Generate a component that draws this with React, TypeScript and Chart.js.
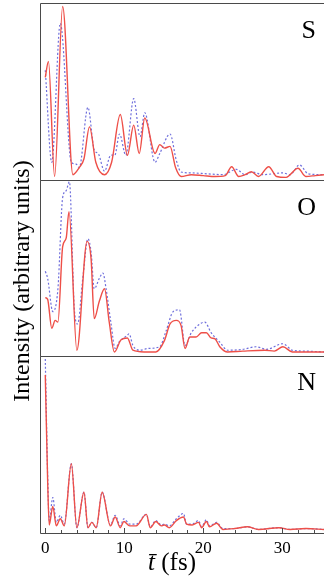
import React, { useEffect, useRef } from 'react';
import { Chart, registerables } from 'chart.js';

Chart.register(...registerables);

// ---------- data (time in fs, intensity as fraction of panel height) ----------
const xMin = -0.67;
const xMax = 35.3;
const xTickStep = 2;
const xLabelEvery = 10;

const panelLabels = ['S', 'O', 'N'];
const yAxisTitle = 'Intensity (arbitrary units)';
const xAxisTitleVar = 't\u0304';
const xAxisTitleUnit = ' (fs)';

// S panel
const tS_red = [0, 0.4, 1.18, 2.2, 3.5, 4.3, 4.9, 5.6, 6.4, 7.5, 8.4, 9.5, 10.4, 11.2, 11.9, 12.6, 13.9, 14.5, 15.1, 15.8, 16.5, 17.2, 18.5, 20.0, 21.5, 22.8, 23.6, 24.5, 25.3, 26.1, 27.0, 28.3, 29.3, 30.5, 32.0, 33.0, 34.2, 35.3];
const vS_red = [0.58, 0.67, 0.02, 0.98, 0.03, 0.07, 0.12, 0.30, 0.10, 0.03, 0.10, 0.37, 0.14, 0.31, 0.15, 0.35, 0.15, 0.20, 0.18, 0.19, 0.07, 0.02, 0.03, 0.025, 0.02, 0.025, 0.075, 0.02, 0.03, 0.047, 0.02, 0.075, 0.02, 0.015, 0.066, 0.02, 0.025, 0.03];
const tS_blue = [0, 0.82, 1.9, 3.3, 3.9, 4.3, 5.4, 6.2, 6.7, 7.5, 8.3, 8.8, 9.4, 10.2, 11.2, 12.0, 12.6, 13.9, 14.5, 15.8, 16.6, 17.2, 18.5, 20.5, 22.5, 24.2, 25.3, 26.3, 27.5, 30.1, 31.0, 32.2, 33.3, 35.3];
const vS_blue = [0.62, 0.10, 0.885, 0.10, 0.09, 0.07, 0.41, 0.17, 0.15, 0.05, 0.14, 0.14, 0.26, 0.14, 0.46, 0.245, 0.38, 0.10, 0.15, 0.26, 0.11, 0.045, 0.04, 0.035, 0.03, 0.06, 0.03, 0.045, 0.03, 0.04, 0.03, 0.085, 0.035, 0.03];

// O panel
const tO_red = [0, 0.3, 0.82, 1.25, 1.6, 2.2, 2.65, 3.0, 4.0, 5.3, 5.8, 6.2, 6.85, 7.5, 8.1, 8.75, 9.6, 10.4, 11.1, 12.5, 14.0, 15.1, 15.8, 16.6, 17.2, 17.7, 18.3, 19.1, 19.8, 20.4, 21.0, 21.5, 22.1, 23.1, 25.0, 27.8, 29.0, 30.1, 31.3, 33.0, 35.3];
const vO_red = [0.33, 0.32, 0.155, 0.20, 0.19, 0.62, 0.67, 0.82, 0.03, 0.65, 0.55, 0.21, 0.31, 0.38, 0.19, 0.02, 0.09, 0.10, 0.03, 0.02, 0.02, 0.086, 0.18, 0.20, 0.17, 0.04, 0.105, 0.105, 0.13, 0.13, 0.10, 0.095, 0.05, 0.02, 0.025, 0.03, 0.025, 0.05, 0.02, 0.02, 0.02];
const tO_blue = [0, 0.3, 0.95, 1.6, 2.2, 2.65, 3.05, 3.7, 4.1, 4.75, 5.4, 5.8, 6.2, 6.85, 7.3, 7.7, 8.3, 8.85, 9.4, 10.4, 10.6, 11.1, 12.0, 13.0, 14.5, 15.3, 16.2, 17.0, 17.7, 18.5, 19.6, 20.2, 21.0, 22.1, 23.1, 25.0, 26.7, 28.0, 30.1, 31.3, 33.0, 35.3];
const vO_blue = [0.48, 0.44, 0.25, 0.38, 0.90, 0.94, 0.99, 0.25, 0.18, 0.44, 0.665, 0.59, 0.38, 0.44, 0.47, 0.38, 0.19, 0.04, 0.08, 0.115, 0.124, 0.057, 0.03, 0.04, 0.05, 0.14, 0.25, 0.26, 0.057, 0.13, 0.18, 0.19, 0.13, 0.076, 0.03, 0.035, 0.05, 0.035, 0.067, 0.03, 0.025, 0.02];

// N panel
const tN = [0, 0.3, 0.5, 0.95, 1.4, 1.9, 2.4, 3.3, 4.0, 4.9, 5.4, 5.9, 6.45, 7.2, 8.25, 8.85, 9.5, 9.95, 10.7, 11.5, 12.8, 13.3, 14.0, 14.7, 15.1, 15.7, 16.6, 17.5, 17.9, 18.6, 19.4, 19.8, 20.4, 20.8, 21.7, 22.5, 24.0, 25.6, 27.0, 29.6, 31.0, 33.0, 35.3];
const vN_red = [0.89, 0.29, 0.045, 0.15, 0.04, 0.08, 0.04, 0.39, 0.03, 0.23, 0.03, 0.06, 0.03, 0.23, 0.04, 0.09, 0.03, 0.065, 0.04, 0.04, 0.105, 0.03, 0.065, 0.04, 0.045, 0.03, 0.07, 0.09, 0.05, 0.045, 0.06, 0.03, 0.065, 0.035, 0.055, 0.02, 0.025, 0.035, 0.02, 0.03, 0.02, 0.025, 0.02];
const vN_blue = [0.98, 0.32, 0.07, 0.20, 0.06, 0.10, 0.05, 0.39, 0.03, 0.23, 0.03, 0.06, 0.03, 0.23, 0.045, 0.10, 0.04, 0.08, 0.05, 0.05, 0.105, 0.035, 0.07, 0.045, 0.05, 0.04, 0.08, 0.11, 0.05, 0.05, 0.07, 0.035, 0.075, 0.04, 0.06, 0.025, 0.025, 0.035, 0.02, 0.03, 0.02, 0.025, 0.02];

// ---------- styling ----------
const RED = '#ee4f48';
const BLUE = '#6f6fdc';
const FRAME = '#4a4a4a';
const SERIF = '"Liberation Serif", "Times New Roman", serif';

const pts = (t: number[], v: number[]) => t.map((x, i) => ({ x, y: v[i] }));

const redDs = (id: string, t: number[], v: number[]) => ({
  data: pts(t, v), yAxisID: id, borderColor: RED, borderWidth: 1.4,
  pointRadius: 0, fill: false, cubicInterpolationMode: 'monotone' as const,
});
const blueDs = (id: string, t: number[], v: number[]) => ({
  data: pts(t, v), yAxisID: id, borderColor: BLUE, borderWidth: 1.2, borderDash: [2, 2],
  pointRadius: 0, fill: false, cubicInterpolationMode: 'monotone' as const,
});

const panelScale = (weight: number, stackWeight: number) => ({
  type: 'linear' as const, position: 'left' as const, stack: 'panels', stackWeight, weight,
  min: 0, max: 1, display: true,
  ticks: { display: false }, grid: { display: false, drawTicks: false }, border: { display: false },
  afterFit: (s: any) => { s.width = 0; },
});

const framePlugin = {
  id: 'panelFrames',
  afterDraw(chart: any) {
    const { ctx, chartArea, scales } = chart;
    ctx.save();
    ctx.strokeStyle = FRAME;
    ctx.lineWidth = 1;
    const left = Math.round(chartArea.left) + 0.5;
    ['yS', 'yO', 'yN'].forEach((id, i) => {
      const s = scales[id];
      const top = Math.round(s.top) + 0.5;
      const bottom = Math.round(s.bottom) + 0.5;
      ctx.beginPath();
      ctx.moveTo(chartArea.right + 2, top);
      ctx.lineTo(left, top);
      ctx.lineTo(left, bottom);
      ctx.lineTo(chartArea.right + 2, bottom);
      ctx.stroke();
      ctx.fillStyle = '#000';
      ctx.font = `26px ${SERIF}`;
      ctx.textAlign = 'right';
      ctx.textBaseline = 'alphabetic';
      ctx.fillText(panelLabels[i], chartArea.right - 8, s.top + 34.5);
    });
    // inward tick marks on the bottom axis
    const x = scales.x;
    const yb = Math.round(chartArea.bottom);
    x.ticks.forEach((t: any) => {
      const px = Math.round(x.getPixelForValue(t.value)) + 0.5;
      const len = t.value % xLabelEvery === 0 ? 5 : 3;
      ctx.beginPath();
      ctx.moveTo(px, yb);
      ctx.lineTo(px, yb - len);
      ctx.stroke();
    });
    // x axis title
    ctx.fillStyle = '#000';
    ctx.textBaseline = 'alphabetic';
    ctx.textAlign = 'left';
    ctx.font = `italic 25px ${SERIF}`;
    const w1 = ctx.measureText(xAxisTitleVar).width;
    ctx.font = `25px ${SERIF}`;
    const w2 = ctx.measureText(xAxisTitleUnit).width;
    const x0 = 172 - (w1 + w2) / 2;
    ctx.font = `italic 25px ${SERIF}`;
    ctx.fillText(xAxisTitleVar, x0, 570);
    ctx.font = `25px ${SERIF}`;
    ctx.fillText(xAxisTitleUnit, x0 + w1, 570);
    // y axis title
    ctx.translate(23, 281);
    ctx.rotate(-Math.PI / 2);
    ctx.textAlign = 'center';
    ctx.textBaseline = 'middle';
    ctx.font = `24px ${SERIF}`;
    ctx.fillText(yAxisTitle, 0, 0);
    ctx.restore();
  },
};

export default function App() {
  const ref = useRef<HTMLCanvasElement>(null);
  useEffect(() => {
    if (!ref.current) return;
    const chart = new Chart(ref.current, {
      type: 'line',
      data: {
        datasets: [
          redDs('yS', tS_red, vS_red),
          redDs('yO', tO_red, vO_red),
          redDs('yN', tN, vN_red),
          blueDs('yS', tS_blue, vS_blue),
          blueDs('yO', tO_blue, vO_blue),
          blueDs('yN', tN, vN_blue),
        ],
      },
      options: {
        animation: false,
        responsive: false,
        events: [],
        layout: { padding: { left: 40, top: 3, right: 0, bottom: 0 } },
        plugins: { legend: { display: false }, tooltip: { enabled: false } },
        scales: {
          x: {
            type: 'linear', min: xMin, max: xMax,
            ticks: {
              stepSize: xTickStep, includeBounds: false, autoSkip: false, maxRotation: 0,
              callback: (v: any) => (Number(v) % xLabelEvery === 0 ? String(v) : ''),
              font: { family: SERIF, size: 17 }, color: '#000', padding: 5,
            },
            grid: { display: false, drawTicks: false },
            border: { display: false },
            afterFit: (s: any) => { s.height = 43; },
          },
          yS: panelScale(3, 177),
          yO: panelScale(2, 175.5),
          yN: panelScale(1, 177.5),
        } as any,
      },
      plugins: [framePlugin],
    });
    return () => chart.destroy();
  }, []);
  return (
    <div style={{ position: 'fixed', left: 0, top: 0, width: 324, height: 576, background: '#fff' }}>
      <canvas ref={ref} width={324} height={576} style={{ display: 'block' }} />
    </div>
  );
}
